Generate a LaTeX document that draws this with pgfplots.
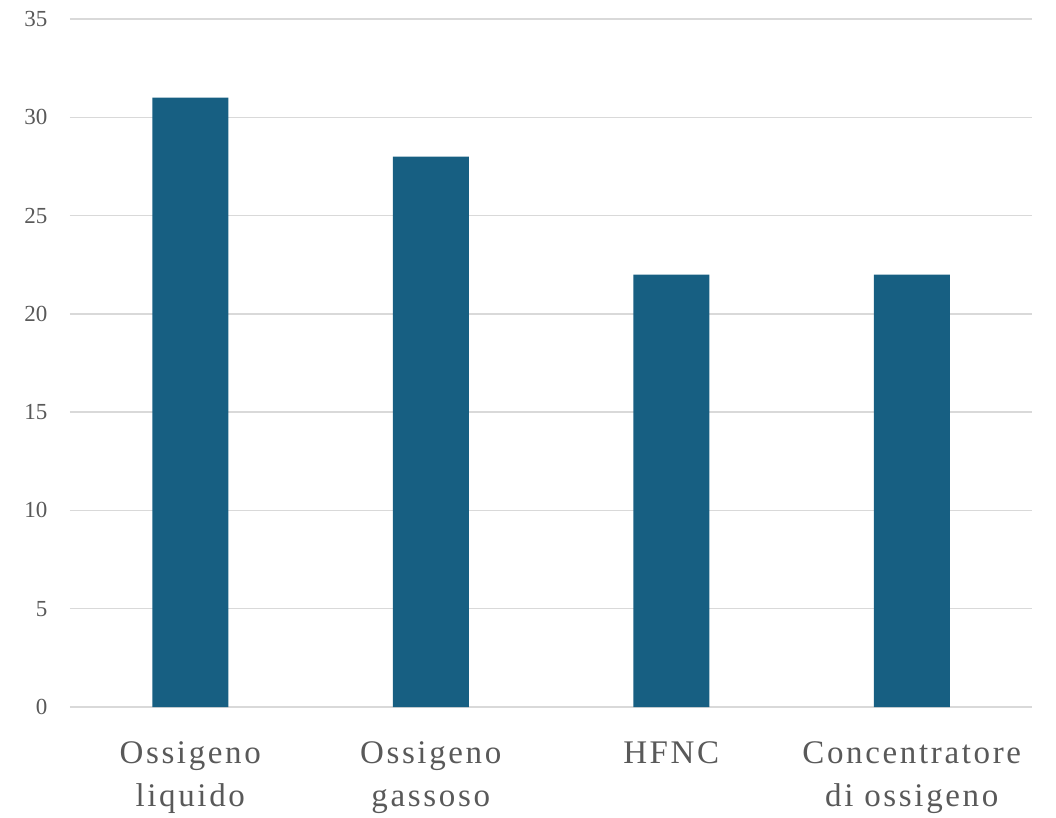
\documentclass[border=0pt]{standalone}
\usepackage{pgfplots}
\pgfplotsset{compat=1.18}
\usepackage{fontspec}
\setmainfont{Liberation Serif}
\newfontfamily\catfont[LetterSpace=8]{Liberation Serif}
\definecolor{barblue}{HTML}{175F82}
\definecolor{labelgray}{HTML}{595959}
\definecolor{gridgray}{HTML}{D9D9D9}
\begin{document}
\begin{tikzpicture}
\begin{axis}[
  scale only axis,
  width=962pt, height=688pt,
  ymin=0, ymax=35,
  ytick={0,5,...,35},
  xmin=-0.5, xmax=3.5,
  xtick={0,1,2,3},
  xticklabels={Ossigeno\\liquido, Ossigeno\\gassoso, HFNC, Concentratore\\di ossigeno},
  x tick label style={align=center, anchor=north, font=\catfont\fontsize{33}{43}\selectfont, text=labelgray},
  xticklabel shift=27pt,
  y tick label style={font=\fontsize{23}{26}\selectfont, text=labelgray},
  yticklabel shift=19pt,
  /pgf/number format/assume math mode=true,
  ymajorgrids,
  grid style={gridgray, line width=1.3pt},
  axis line style={draw=none},
  major tick style={draw=none},
  ybar,
  bar width=76pt,
  clip=false,
]
\addplot[fill=barblue, draw=none] coordinates {(0,31) (1,28) (2,22) (3,22)};
\end{axis}
\path (current axis.south west) ++(-70pt,-111pt);
\path (current axis.north east) ++(24pt,19pt);
\end{tikzpicture}
\end{document}
